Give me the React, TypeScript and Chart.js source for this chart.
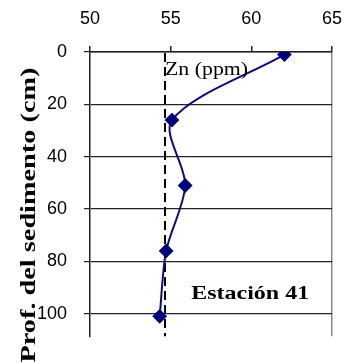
import React, { useEffect, useRef } from "react";
import { Chart, registerables } from "chart.js";

Chart.register(...registerables);

const depths = [1, 26, 51, 76, 101];
const zinc = [62.05, 55.08, 55.9, 54.72, 54.32];
const refValue = 54.65;
const refDepths = [-5, 115];
const xTicks = [50, 55, 60, 65];
const yTicks = [0, 20, 40, 60, 80, 100];

const yTitle = "Prof. del sedimento (cm)";
const seriesLabel = "Zn (ppm)";
const stationLabel = "Estación 41";

const textPlugin = {
  id: "textPlugin",
  afterDatasetsDraw(chart: any) {
    const ctx = chart.ctx as CanvasRenderingContext2D;
    const xs = chart.scales.x;
    const ys = chart.scales.y;
    const draw = (text: string, x: number, y: number, font: string, target: number, rot = 0, align = "left") => {
      ctx.save();
      ctx.font = font;
      ctx.fillStyle = "#000";
      const w = ctx.measureText(text).width;
      ctx.translate(x, y);
      if (rot) ctx.rotate(rot);
      ctx.scale(target / w, 1);
      ctx.textAlign = align as CanvasTextAlign;
      ctx.textBaseline = "alphabetic";
      ctx.fillText(text, 0, 0);
      ctx.restore();
    };
    draw(seriesLabel, xs.getPixelForValue(54.65), ys.getPixelForValue(8.7), "18px 'Liberation Serif'", 83);
    draw(stationLabel, xs.getPixelForValue(56.27), ys.getPixelForValue(94.3), "bold 18px 'Liberation Serif'", 118);
    draw(yTitle, 35, 215, "bold 22px 'Liberation Serif'", 295, -Math.PI / 2, "center");
  },
};

export default function App() {
  const ref = useRef<HTMLCanvasElement>(null);
  useEffect(() => {
    if (!ref.current) return;
    const chart = new Chart(ref.current, {
      type: "scatter",
      data: {
        datasets: [
          {
            label: seriesLabel,
            data: zinc.map((v, i) => ({ x: v, y: depths[i] })),
            showLine: true,
            tension: 0.3,
            borderColor: "#0b0b8c",
            borderWidth: 2,
            backgroundColor: "#000080",
            pointBackgroundColor: "#000080",
            pointBorderColor: "#000080",
            pointStyle: "rectRot",
            pointRadius: 6,
          },
          {
            label: "ref",
            data: refDepths.map((d) => ({ x: refValue, y: d })),
            showLine: true,
            borderColor: "#000",
            borderWidth: 2,
            borderDash: [9, 5],
            pointRadius: 0,
          },
        ],
      },
      options: {
        responsive: false,
        animation: false,
        layout: { padding: { right: 19, left: 0, top: 0, bottom: 0 } },
        plugins: { legend: { display: false }, tooltip: { enabled: false } },
        scales: {
          x: {
            type: "linear",
            position: "top",
            min: 50,
            max: 65,
            afterBuildTicks: (s: any) => { s.ticks = xTicks.map((v) => ({ value: v })); },
            afterFit: (s: any) => { s.height = 52; },
            ticks: { color: "#000", font: { family: "'Liberation Sans'", size: 18 }, padding: 16 },
            grid: {
              color: (c: any) => (c.tick && c.tick.value === 65 ? "#888" : "rgba(0,0,0,0)"),
              tickColor: "#222",
              tickLength: 6,
              lineWidth: 1.5,
            },
            border: { display: true, color: "#222", width: 1.5 },
          },
          y: {
            type: "linear",
            reverse: true,
            min: 0,
            max: 108.6,
            afterBuildTicks: (s: any) => { s.ticks = yTicks.map((v) => ({ value: v })); },
            afterFit: (s: any) => { s.width = 90; },
            ticks: { color: "#000", font: { family: "'Liberation Sans'", size: 18 }, padding: 17 },
            grid: { color: "#222", tickColor: "#222", tickLength: 6, lineWidth: 1.2 },
            border: { display: true, color: "#222", width: 1.5 },
          },
        },
      },
      plugins: [textPlugin],
    });
    return () => chart.destroy();
  }, []);
  return (
    <div style={{ position: "absolute", left: 0, top: 0, background: "#fff" }}>
      <canvas ref={ref} width={358} height={364} style={{ display: "block" }} />
    </div>
  );
}
